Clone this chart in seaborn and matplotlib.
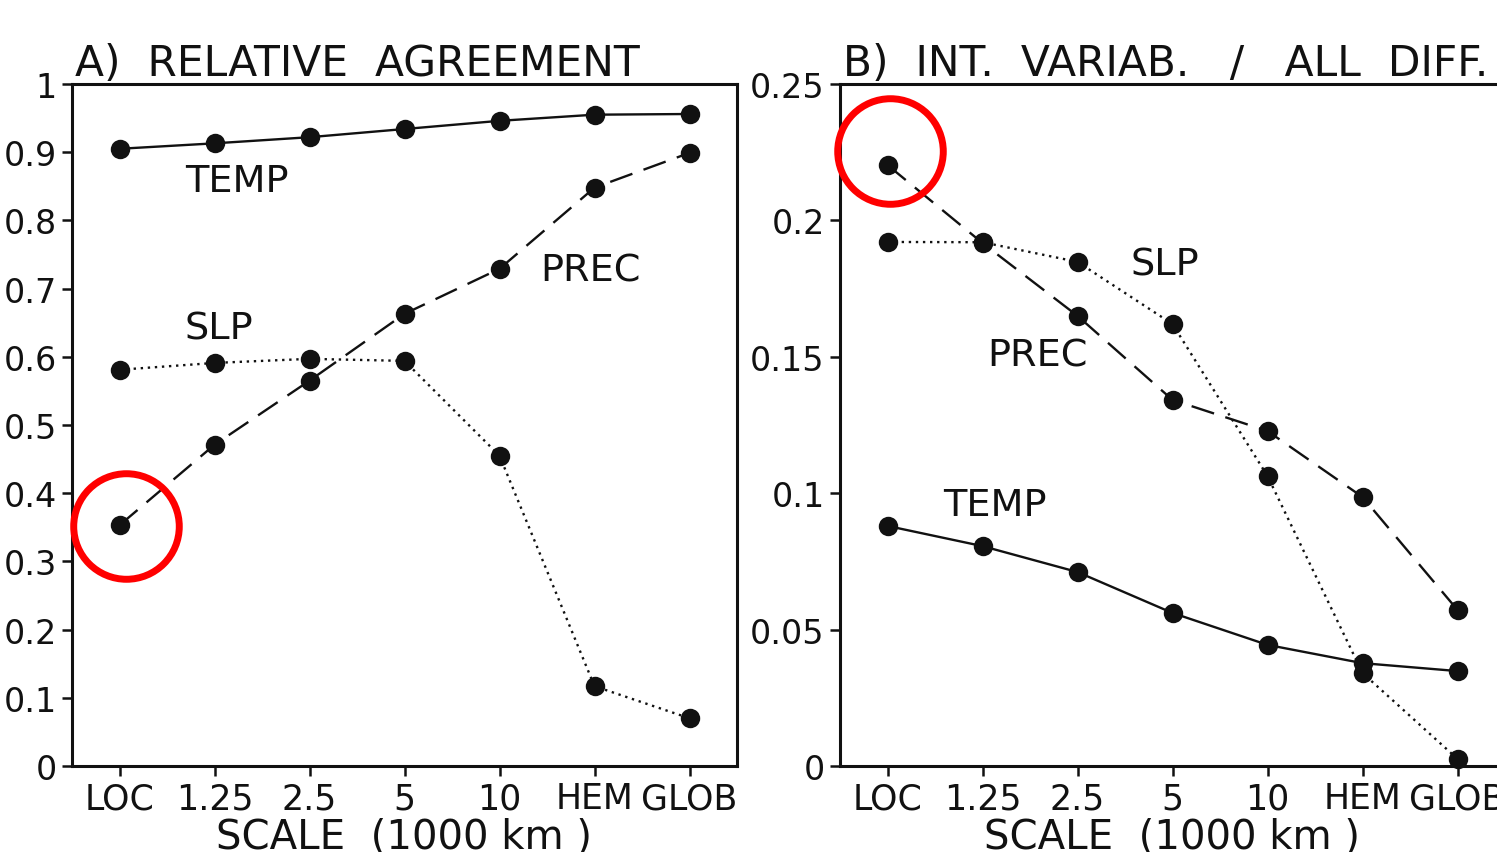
import numpy as np
import pandas as pd
import matplotlib
matplotlib.use("Agg")
import matplotlib.pyplot as plt
import matplotlib.transforms as mtransforms
import seaborn as sns

categories = ["LOC", "1.25", "2.5", "5", "10", "HEM", "GLOB"]

# Panel A: relative agreement
a_temp = [0.905, 0.913, 0.922, 0.934, 0.946, 0.955, 0.956]
a_prec = [0.353, 0.471, 0.565, 0.663, 0.729, 0.848, 0.899]
a_slp = [0.581, 0.591, 0.597, 0.594, 0.455, 0.117, 0.070]

# Panel B: internal variability / all differences
b_temp = [0.088, 0.0806, 0.0711, 0.0561, 0.0444, 0.0377, 0.0348]
b_prec = [0.2203, 0.1917, 0.165, 0.1342, 0.1228, 0.0986, 0.0572]
b_slp = [0.1921, 0.192, 0.1848, 0.162, 0.1063, 0.0341, 0.0026]

a_yticks = [0, 0.1, 0.2, 0.3, 0.4, 0.5, 0.6, 0.7, 0.8, 0.9, 1]
a_yticklabels = ["0", "0.1", "0.2", "0.3", "0.4", "0.5", "0.6", "0.7", "0.8", "0.9", "1"]
b_yticks = [0, 0.05, 0.1, 0.15, 0.2, 0.25]
b_yticklabels = ["0", "0.05", "0.1", "0.15", "0.2", "0.25"]

sns.set_style("ticks")
plt.rcParams["font.family"] = ["DejaVu Sans"]
plt.rcParams["axes.linewidth"] = 2.2

W, H = 1497, 853
fig = plt.figure(figsize=(W / 100, H / 100), dpi=100)
axA = fig.add_axes([72 / W, 1 - 767 / H, 665 / W, 682 / H])
axB = fig.add_axes([840 / W, 1 - 767 / H, 665 / W, 682 / H])

xpos = np.arange(len(categories))

styles = {
    "TEMP": "-",
    "PREC": (0, (10, 5)),
    "SLP": (0, (1, 2)),
}


def draw(ax, temp, prec, slp):
    for name, vals in (("TEMP", temp), ("PREC", prec), ("SLP", slp)):
        df = pd.DataFrame({"x": xpos, "y": vals})
        sns.lineplot(data=df, x="x", y="y", ax=ax, color="#111111",
                     linewidth=1.7, linestyle=styles[name], marker="o",
                     markersize=14, markeredgewidth=0, markerfacecolor="#111111",
                     clip_on=False, zorder=3)


draw(axA, a_temp, a_prec, a_slp)
draw(axB, b_temp, b_prec, b_slp)

for ax, yt, ytl, ymax in ((axA, a_yticks, a_yticklabels, 1.0),
                          (axB, b_yticks, b_yticklabels, 0.25)):
    ax.set_xlim(-0.5, len(categories) - 0.5)
    ax.set_ylim(0, ymax)
    ax.set_xticks(xpos)
    ax.set_xticklabels(categories, fontsize=25)
    ax.set_yticks(yt)
    ax.set_yticklabels(ytl, fontsize=24)
    ax.tick_params(axis="both", direction="out", length=7, width=1.8,
                   color="#111111", labelcolor="#111111")
    ax.tick_params(axis="y", pad=4)
    ax.tick_params(axis="x", pad=4)
    for s in ax.spines.values():
        s.set_visible(True)
        s.set_color("#111111")
        s.set_linewidth(2.2)
    ax.set_xlabel("SCALE  (1000 km )", fontsize=29, color="#111111", labelpad=1)
    ax.set_ylabel("")

axA.set_title("A)  RELATIVE  AGREEMENT", loc="left", fontsize=30.5, color="#111111",
              pad=6, x=0.005)
axB.set_title("B)  INT.  VARIAB.   /   ALL  DIFF.", loc="left", fontsize=30.5,
              color="#111111", pad=6, x=0.005)

lab = dict(fontsize=27.5, color="#111111", ha="left", va="center")
axA.text(0.689, 0.858, "TEMP", **lab)
axA.text(4.426, 0.726, "PREC", **lab)
axA.text(0.689, 0.642, "SLP", **lab)
axB.text(2.553, 0.1837, "SLP", **lab)
axB.text(1.047, 0.1503, "PREC", **lab)
axB.text(0.584, 0.0957, "TEMP", **lab)

# red highlight circles around the LOC precipitation points
trA = mtransforms.offset_copy(axA.transData, fig=fig, x=6, y=-1, units="dots")
axA.plot([xpos[0]], [a_prec[0]], marker="o", markersize=76, markerfacecolor="none",
         markeredgecolor="#ff0000", markeredgewidth=5, transform=trA,
         clip_on=False, zorder=5, linestyle="none")
trB = mtransforms.offset_copy(axB.transData, fig=fig, x=2, y=14, units="dots")
axB.plot([xpos[0]], [b_prec[0]], marker="o", markersize=76, markerfacecolor="none",
         markeredgecolor="#ff0000", markeredgewidth=5, transform=trB,
         clip_on=False, zorder=5, linestyle="none")

fig.savefig("out.png", dpi=100)
